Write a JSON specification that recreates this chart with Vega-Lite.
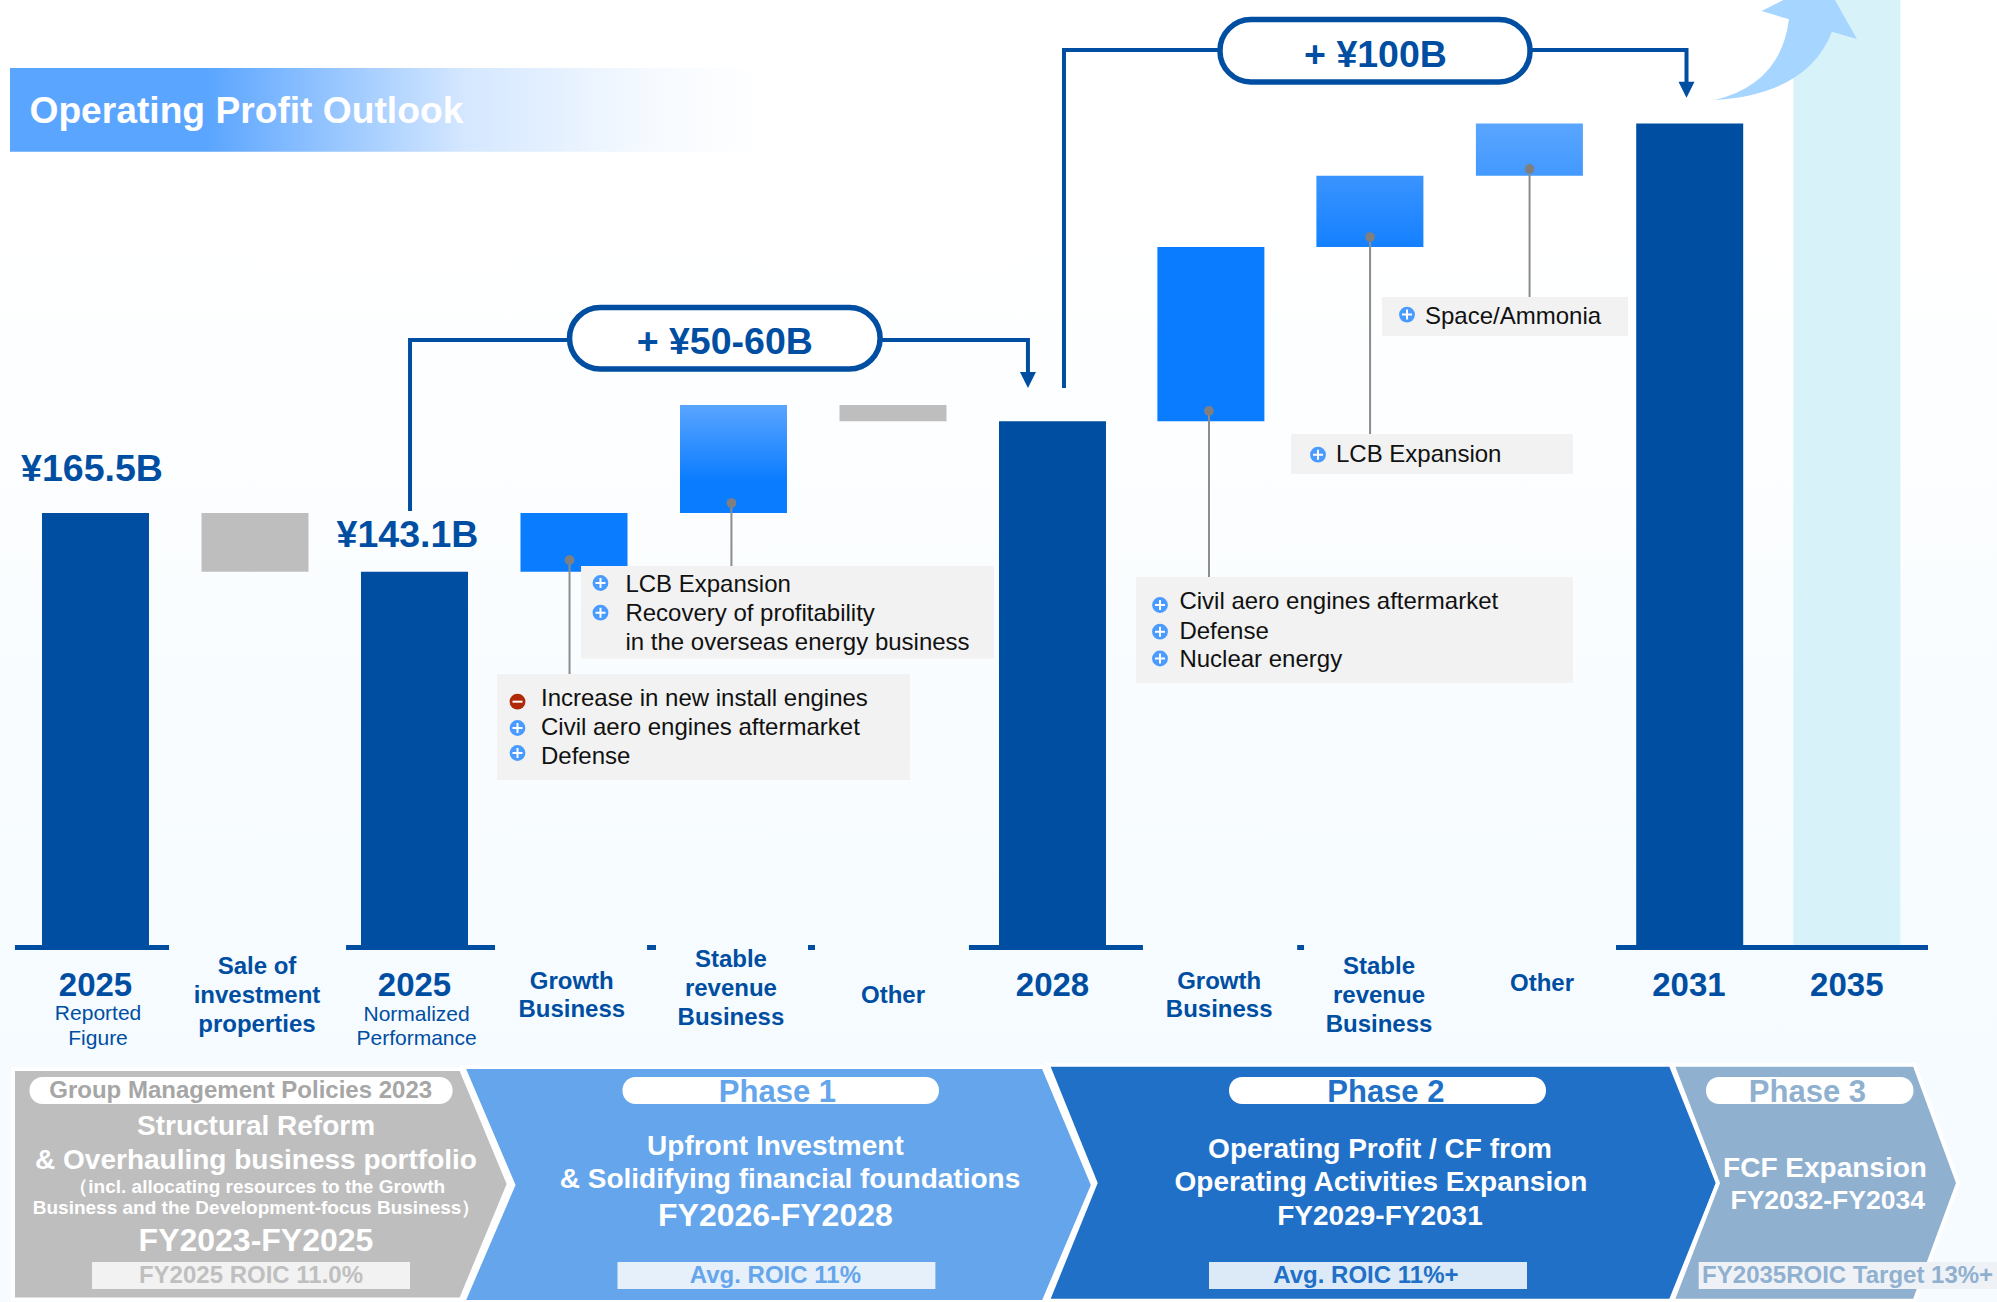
{"$schema":"https://vega.github.io/schema/vega-lite/v6.json","width":1997,"height":1302,"padding":0,"autosize":{"type":"none"},"background":"#ffffff","view":{"stroke":null},"config":{"text":{"font":"Liberation Sans"},"view":{"stroke":null}},
"encoding":{"x":{"field":"x","type":"quantitative","scale":{"domain":[-0.5987,11.9216],"nice":false,"zero":false,"padding":0},"axis":null},"y":{"field":"y","type":"quantitative","scale":{"domain":[-136.09,361.62],"nice":false,"zero":false,"padding":0},"axis":null}},
"layer":[
{"data":{"values":[{"x":-0.5987,"x2":11.9216,"y":361.62,"y2":-136.09}]},"mark":{"type":"rect","fill":{"gradient":"linear","x1":0,"y1":0,"x2":0,"y2":1,"stops":[{"offset":0,"color":"#ffffff"},{"offset":0.15,"color":"#ffffff"},{"offset":0.8,"color":"#f5fbff"},{"offset":1,"color":"#f5fbff"}]}},"encoding":{"x2":{"field":"x2"},"y2":{"field":"y2"}}},
{"data":{"values":[{"x":-0.5361,"x2":4.2,"y":335.6,"y2":303.6}]},"mark":{"type":"rect","fill":{"gradient":"linear","x1":0,"y1":0,"x2":1,"y2":0,"stops":[{"offset":0,"color":"#5aa5ff"},{"offset":0.26,"color":"#5aa5ff"},{"offset":0.6,"color":"#d4e7ff"},{"offset":0.85,"color":"#f6faff"},{"offset":1,"color":"#ffffff"}]}},"encoding":{"x2":{"field":"x2"},"y2":{"field":"y2"}}},
{"data":{"values":[{"x":-0.414,"y":318.9,"t":"Operating Profit Outlook"}]},"mark":{"type":"text","fontSize":37.2,"fontWeight":"bold","color":"#ffffff","align":"left","baseline":"middle"},"encoding":{"text":{"field":"t"}}},
{"data":{"values":[{"x":10.98,"y":361.62,"y2":0,"cat":"2035"}]},"mark":{"type":"bar","orient":"vertical","width":107,"color":"#d8f2f9"},"encoding":{"y2":{"field":"y2"}}},
{"data":{"values":[{"x":10.592,"y":342.5}]},"mark":{"type":"point","filled":true,"color":"#a6d5ff","opacity":1,"size":40000,"shape":"M-0.704,0.5Q-0.04,0.34,0.04,-0.307L-0.234,-0.39L-0.014,-0.5L0.5,-0.5L0.72,-0.11L0.47,-0.183Q0.23,0.44,-0.704,0.5Z"}},
{"data":{"values":[{"b":"a","s":1,"x":1.972,"y":166.3},{"b":"a","s":2,"x":1.972,"y":231.65},{"b":"a","s":3,"x":5.846,"y":231.65},{"b":"a","s":4,"x":5.846,"y":219.04},{"b":"b","s":1,"x":6.072,"y":213.3},{"b":"b","s":2,"x":6.072,"y":342.5},{"b":"b","s":3,"x":9.975,"y":342.5},{"b":"b","s":4,"x":9.975,"y":330.27}]},"mark":{"type":"line","color":"#004ea2","strokeWidth":4,"strokeJoin":"miter"},"encoding":{"detail":{"field":"b"},"order":{"field":"s","type":"quantitative"}}},
{"data":{"values":[{"x":5.846,"y":216.36},{"x":9.975,"y":327.33}]},"mark":{"type":"point","filled":true,"color":"#004ea2","opacity":1,"size":256,"shape":"M-1,-1H1L0,1Z"}},
{"data":{"values":[{"x":2.972,"x2":4.919,"y":244.07,"y2":220.56},{"x":7.05,"x2":8.994,"y":354.16,"y2":330.27}]},"mark":{"type":"rect","fill":"#ffffff","stroke":"#004ea2","strokeWidth":5.5,"cornerRadius":31},"encoding":{"x2":{"field":"x2"},"y2":{"field":"y2"}}},
{"data":{"values":[{"x":0,"y":165.5,"y2":0,"cat":"2025 Reported Figure"},{"x":2,"y":143.1,"y2":0,"cat":"2025 Normalized Performance"},{"x":6,"y":200.6,"y2":0,"cat":"2028"},{"x":9.995,"y":314.4,"y2":0,"cat":"2031"}]},"mark":{"type":"bar","orient":"vertical","width":107,"color":"#004ea2"},"encoding":{"y2":{"field":"y2"}}},
{"data":{"values":[{"x":1,"y":165.5,"y2":143.1,"cat":"Sale of investment properties"},{"x":5,"y":206.8,"y2":200.6,"cat":"Other"}]},"mark":{"type":"bar","orient":"vertical","width":107,"color":"#bebebe"},"encoding":{"y2":{"field":"y2"}}},
{"data":{"values":[{"x":3,"y":165.5,"y2":143.1,"cat":"Growth Business"},{"x":6.993,"y":267.2,"y2":200.6,"cat":"Growth Business"}]},"mark":{"type":"bar","orient":"vertical","width":107,"color":"#0a7cff"},"encoding":{"y2":{"field":"y2"}}},
{"data":{"values":[{"x":4,"y":206.8,"y2":165.5,"cat":"Stable revenue Business"}]},"mark":{"type":"bar","orient":"vertical","width":107,"fill":{"gradient":"linear","x1":0,"y1":0,"x2":0,"y2":1,"stops":[{"offset":0,"color":"#5aa5ff"},{"offset":0.7,"color":"#0a7cff"},{"offset":1,"color":"#0a7cff"}]}},"encoding":{"y2":{"field":"y2"}}},
{"data":{"values":[{"x":7.99,"y":294.4,"y2":267.2,"cat":"Stable revenue Business"}]},"mark":{"type":"bar","orient":"vertical","width":107,"fill":{"gradient":"linear","x1":0,"y1":0,"x2":0,"y2":1,"stops":[{"offset":0,"color":"#3a94ff"},{"offset":1,"color":"#1480ff"}]}},"encoding":{"y2":{"field":"y2"}}},
{"data":{"values":[{"x":8.99,"y":314.4,"y2":294.4,"cat":"Other"}]},"mark":{"type":"bar","orient":"vertical","width":107,"fill":{"gradient":"linear","x1":0,"y1":0,"x2":0,"y2":1,"stops":[{"offset":0,"color":"#5aa5ff"},{"offset":1,"color":"#4299ff"}]}},"encoding":{"y2":{"field":"y2"}}},
{"data":{"values":[{"x":-0.505,"x2":0.461,"y":0.38,"y2":-1.53},{"x":1.571,"x2":2.505,"y":0.38,"y2":-1.53},{"x":3.458,"x2":3.514,"y":0.38,"y2":-1.53},{"x":4.467,"x2":4.511,"y":0.38,"y2":-1.53},{"x":5.476,"x2":6.567,"y":0.38,"y2":-1.53},{"x":7.534,"x2":7.577,"y":0.38,"y2":-1.53},{"x":9.533,"x2":11.489,"y":0.38,"y2":-1.53}]},"mark":{"type":"rect","color":"#004ea2"},"encoding":{"x2":{"field":"x2"},"y2":{"field":"y2"}}},
{"data":{"values":[{"x":2.517,"x2":5.107,"y":103.97,"y2":63.45},{"x":3.044,"x2":5.633,"y":145.26,"y2":109.82},{"x":6.524,"x2":9.263,"y":141.05,"y2":100.53},{"x":7.495,"x2":9.263,"y":195.72,"y2":180.43},{"x":8.066,"x2":9.608,"y":248.09,"y2":233.18}]},"mark":{"type":"rect","color":"#f2f2f2"},"encoding":{"x2":{"field":"x2"},"y2":{"field":"y2"}}},
{"data":{"values":[{"x":2.972,"y":147.55,"y2":103.97},{"x":3.987,"y":169.34,"y2":145.26},{"x":6.981,"y":204.51,"y2":141.05},{"x":7.991,"y":271.02,"y2":195.72},{"x":8.991,"y":297.02,"y2":248.09}]},"mark":{"type":"rule","color":"#8c8c8c","strokeWidth":2},"encoding":{"y2":{"field":"y2"}}},
{"data":{"values":[{"x":2.972,"y":147.55},{"x":3.987,"y":169.34},{"x":6.981,"y":204.51},{"x":7.991,"y":271.02},{"x":8.991,"y":297.02}]},"mark":{"type":"point","filled":true,"shape":"circle","color":"#7f7f7f","opacity":1,"size":95}},
{"data":{"values":[{"x":2.6458,"y":83.33},{"x":2.6458,"y":73.78},{"x":3.1661,"y":138.76},{"x":3.1661,"y":127.41},{"x":6.674,"y":130.35},{"x":6.674,"y":120.14},{"x":6.674,"y":109.9},{"x":7.6646,"y":187.8},{"x":8.2226,"y":241.36}]},"mark":{"type":"point","filled":true,"shape":"circle","color":"#4a9bff","opacity":1,"size":250}},
{"data":{"values":[{"x":2.6458,"y":93.39}]},"mark":{"type":"point","filled":true,"shape":"circle","color":"#b02a0a","opacity":1,"size":250}},
{"data":{"values":[{"x":2.6458,"y":83.33},{"x":2.6458,"y":73.78},{"x":3.1661,"y":138.76},{"x":3.1661,"y":127.41},{"x":6.674,"y":130.35},{"x":6.674,"y":120.14},{"x":6.674,"y":109.9},{"x":7.6646,"y":187.8},{"x":8.2226,"y":241.36}]},"mark":{"type":"point","filled":true,"color":"#ffffff","opacity":1,"size":100,"shape":"M-1,-0.2H-0.2V-1H0.2V-0.2H1V0.2H0.2V1H-0.2V0.2H-1Z"}},
{"data":{"values":[{"x":2.6458,"y":93.39}]},"mark":{"type":"point","filled":true,"color":"#ffffff","opacity":1,"size":100,"shape":"M-1,-0.2H1V0.2H-1Z"}},
{"data":{"values":[{"x":2.7931,"y":94.4,"t":"Increase in new install engines"},{"x":2.7931,"y":83.4,"t":"Civil aero engines aftermarket"},{"x":2.7931,"y":72.3,"t":"Defense"},{"x":3.3223,"y":138,"t":"LCB Expansion"},{"x":3.3223,"y":127,"t":"Recovery of profitability"},{"x":3.3223,"y":115.8,"t":"in the overseas energy business"},{"x":6.7956,"y":131.4,"t":"Civil aero engines aftermarket"},{"x":6.7956,"y":120.2,"t":"Defense"},{"x":6.7956,"y":109.5,"t":"Nuclear energy"},{"x":7.7774,"y":187.6,"t":"LCB Expansion"},{"x":8.3354,"y":240.5,"t":"Space/Ammonia"}]},"mark":{"type":"text","fontSize":24,"color":"#111111","align":"left","baseline":"middle"},"encoding":{"text":{"field":"t"}}},
{"data":{"values":[{"x":-0.022,"y":182,"t":"¥165.5B"},{"x":1.956,"y":156.6,"t":"¥143.1B"},{"x":3.945,"y":230.4,"t":"+ ¥50-60B"},{"x":8.025,"y":340.2,"t":"+ ¥100B"}]},"mark":{"type":"text","fontSize":37.5,"fontWeight":"bold","color":"#004ea2","align":"center","baseline":"middle"},"encoding":{"text":{"field":"t"}}},
{"data":{"values":[{"x":0,"y":-15.2,"t":"2025"},{"x":2,"y":-15.2,"t":"2025"},{"x":6,"y":-15.2,"t":"2028"},{"x":9.99,"y":-15.2,"t":"2031"},{"x":10.98,"y":-15.2,"t":"2035"}]},"mark":{"type":"text","fontSize":33,"fontWeight":"bold","color":"#004ea2","align":"center","baseline":"middle"},"encoding":{"text":{"field":"t"}}},
{"data":{"values":[{"x":1.0125,"y":-8,"t":"Sale of"},{"x":1.0125,"y":-19.2,"t":"investment"},{"x":1.0125,"y":-30.3,"t":"properties"},{"x":2.986,"y":-13.8,"t":"Growth"},{"x":2.986,"y":-24.5,"t":"Business"},{"x":3.984,"y":-5.2,"t":"Stable"},{"x":3.984,"y":-16.3,"t":"revenue"},{"x":3.984,"y":-27.6,"t":"Business"},{"x":5,"y":-19.2,"t":"Other"},{"x":7.045,"y":-13.8,"t":"Growth"},{"x":7.045,"y":-24.5,"t":"Business"},{"x":8.047,"y":-8,"t":"Stable"},{"x":8.047,"y":-19.2,"t":"revenue"},{"x":8.047,"y":-30.3,"t":"Business"},{"x":9.069,"y":-14.6,"t":"Other"}]},"mark":{"type":"text","fontSize":24,"fontWeight":"bold","color":"#004ea2","align":"center","baseline":"middle"},"encoding":{"text":{"field":"t"}}},
{"data":{"values":[{"x":0.016,"y":-25.9,"t":"Reported"},{"x":0.016,"y":-35.6,"t":"Figure"},{"x":2.013,"y":-26.2,"t":"Normalized"},{"x":2.013,"y":-35.6,"t":"Performance"}]},"mark":{"type":"text","fontSize":21,"color":"#004ea2","align":"center","baseline":"middle"},"encoding":{"text":{"field":"t"}}},
{"data":{"values":[{"p":"Group Management Policies 2023","y":-47.02,"x":-0.5172,"x2":2.2915},{"p":"Group Management Policies 2023","y":-90.98,"x":-0.5172,"x2":2.5912},{"p":"Group Management Policies 2023","y":-135.1,"x":-0.5172,"x2":2.2915},{"p":"Phase 1","y":-46.3,"x":2.305,"x2":5.9436},{"p":"Phase 1","y":-91.36,"x":2.62,"x2":6.2539},{"p":"Phase 1","y":-136.09,"x":2.305,"x2":5.9436},{"p":"Phase 2","y":-45.4,"x":5.97,"x2":9.876},{"p":"Phase 2","y":-90.6,"x":6.27,"x2":10.1724},{"p":"Phase 2","y":-135.6,"x":5.97,"x2":9.876},{"p":"Phase 3","y":-45.4,"x":9.887,"x2":11.405},{"p":"Phase 3","y":-90.6,"x":10.172,"x2":11.678},{"p":"Phase 3","y":-135.6,"x":9.887,"x2":11.405}]},"mark":{"type":"area","orient":"horizontal","interpolate":"linear","stroke":"#ffffff","strokeWidth":4,"opacity":1},"encoding":{"x2":{"field":"x2"},"color":{"field":"p","type":"nominal","legend":null,"scale":{"domain":["Group Management Policies 2023","Phase 1","Phase 2","Phase 3"],"range":["#bebebe","#65a5eb","#2070c8","#90b0d0"]}}}},
{"data":{"values":[{"x":-0.4138,"x2":2.2389,"y":-50.08,"y2":-60.39},{"x":3.304,"x2":5.2884,"y":-50.08,"y2":-60.39},{"x":7.1066,"x2":9.094,"y":-50.08,"y2":-60.39},{"x":10.0972,"x2":11.398,"y":-50.08,"y2":-60.39}]},"mark":{"type":"rect","fill":"#ffffff","cornerRadius":13},"encoding":{"x2":{"field":"x2"},"y2":{"field":"y2"}}},
{"data":{"values":[{"x":-0.0219,"x2":1.9718,"y":-120.79,"y2":-131.12}]},"mark":{"type":"rect","fill":"#f2f2f2"},"encoding":{"x2":{"field":"x2"},"y2":{"field":"y2"}}},
{"data":{"values":[{"x":3.2727,"x2":5.2658,"y":-120.79,"y2":-131.12}]},"mark":{"type":"rect","fill":"#e6f0fb"},"encoding":{"x2":{"field":"x2"},"y2":{"field":"y2"}}},
{"data":{"values":[{"x":6.9812,"x2":8.9749,"y":-120.79,"y2":-131.12}]},"mark":{"type":"rect","fill":"#dce9f7"},"encoding":{"x2":{"field":"x2"},"y2":{"field":"y2"}}},
{"data":{"values":[{"x":10.0514,"x2":11.9216,"y":-120.79,"y2":-131.12}]},"mark":{"type":"rect","fill":"#eef2f7"},"encoding":{"x2":{"field":"x2"},"y2":{"field":"y2"}}},
{"data":{"values":[{"x":0.9103,"y":-55.6,"t":"Group Management Policies 2023"}]},"mark":{"type":"text","fontSize":24,"fontWeight":"bold","color":"#a6a6a6","align":"center","baseline":"middle"},"encoding":{"text":{"field":"t"}}},
{"data":{"values":[{"x":4.2753,"y":-56.2,"t":"Phase 1"}]},"mark":{"type":"text","fontSize":31,"fontWeight":"bold","color":"#65a5eb","align":"center","baseline":"middle"},"encoding":{"text":{"field":"t"}}},
{"data":{"values":[{"x":8.09,"y":-56.2,"t":"Phase 2"}]},"mark":{"type":"text","fontSize":31,"fontWeight":"bold","color":"#2070c8","align":"center","baseline":"middle"},"encoding":{"text":{"field":"t"}}},
{"data":{"values":[{"x":10.7329,"y":-56.2,"t":"Phase 3"}]},"mark":{"type":"text","fontSize":31,"fontWeight":"bold","color":"#90b0d0","align":"center","baseline":"middle"},"encoding":{"text":{"field":"t"}}},
{"data":{"values":[{"x":1.0063,"y":-69.2,"t":"Structural Reform"},{"x":1.0063,"y":-82.2,"t":"& Overhauling business portfolio"},{"x":4.2627,"y":-76.9,"t":"Upfront Investment"},{"x":4.3542,"y":-89.4,"t":"& Solidifying financial foundations"},{"x":8.0533,"y":-78,"t":"Operating Profit / CF from"},{"x":8.0596,"y":-90.6,"t":"Operating Activities Expansion"}]},"mark":{"type":"text","fontSize":28,"fontWeight":"bold","color":"#ffffff","align":"center","baseline":"middle"},"encoding":{"text":{"field":"t"}}},
{"data":{"values":[{"x":1.0063,"y":-112.7,"t":"FY2023-FY2025"},{"x":4.2627,"y":-103.3,"t":"FY2026-FY2028"}]},"mark":{"type":"text","fontSize":32,"fontWeight":"bold","color":"#ffffff","align":"center","baseline":"middle"},"encoding":{"text":{"field":"t"}}},
{"data":{"values":[{"x":8.0533,"y":-103.5,"t":"FY2029-FY2031"},{"x":10.8433,"y":-85.2,"t":"FCF Expansion"}]},"mark":{"type":"text","fontSize":28,"fontWeight":"bold","color":"#ffffff","align":"center","baseline":"middle"},"encoding":{"text":{"field":"t"}}},
{"data":{"values":[{"x":10.86,"y":-97.48,"t":"FY2032-FY2034"}]},"mark":{"type":"text","fontSize":26.5,"fontWeight":"bold","color":"#ffffff","align":"center","baseline":"middle"},"encoding":{"text":{"field":"t"}}},
{"data":{"values":[{"x":1.014,"y":-92.01,"t":"（incl. allocating resources to the Growth"},{"x":1.01,"y":-100.15,"t":"Business and the Development-focus Business）"}]},"mark":{"type":"text","fontSize":19,"fontWeight":"bold","color":"#ffffff","align":"center","baseline":"middle"},"encoding":{"text":{"field":"t"}}},
{"data":{"values":[{"x":0.9749,"y":-126.15,"t":"FY2025 ROIC 11.0%"}]},"mark":{"type":"text","fontSize":24,"fontWeight":"bold","color":"#bfbfbf","align":"center","baseline":"middle"},"encoding":{"text":{"field":"t"}}},
{"data":{"values":[{"x":4.2627,"y":-126.15,"t":"Avg. ROIC 11%"}]},"mark":{"type":"text","fontSize":24,"fontWeight":"bold","color":"#65a5eb","align":"center","baseline":"middle"},"encoding":{"text":{"field":"t"}}},
{"data":{"values":[{"x":7.9649,"y":-126.15,"t":"Avg. ROIC 11%+"}]},"mark":{"type":"text","fontSize":24,"fontWeight":"bold","color":"#2070c8","align":"center","baseline":"middle"},"encoding":{"text":{"field":"t"}}},
{"data":{"values":[{"x":10.985,"y":-126.15,"t":"FY2035ROIC Target 13%+"}]},"mark":{"type":"text","fontSize":24,"fontWeight":"bold","color":"#90b0d0","align":"center","baseline":"middle"},"encoding":{"text":{"field":"t"}}}
]}
